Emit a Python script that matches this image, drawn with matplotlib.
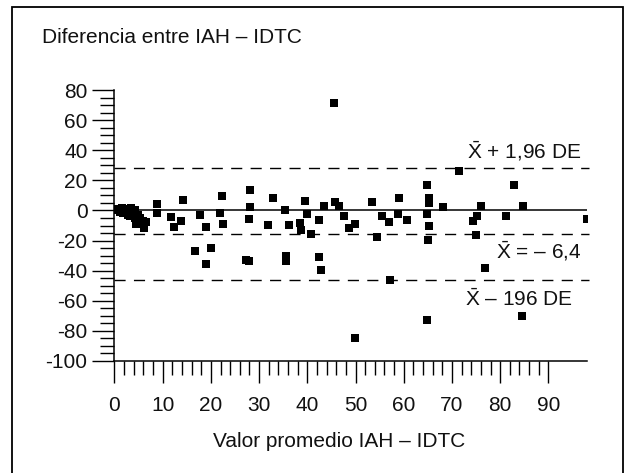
import matplotlib
matplotlib.use("Agg")
import matplotlib.pyplot as plt
from matplotlib.patches import Rectangle
from matplotlib.ticker import MultipleLocator

plt.rcParams['font.family'] = ['Liberation Sans', 'DejaVu Sans']
plt.rcParams['mathtext.fontset'] = 'custom'
plt.rcParams['mathtext.rm'] = 'Liberation Sans'
plt.rcParams['mathtext.it'] = 'Liberation Sans'
plt.rcParams['axes.unicode_minus'] = False

# Data: mean value (x) and difference (y) IAH - IDTC
mean_vals = [
    0.3, 0.8, 1.2, 1.5, 2.0, 2.2, 2.6, 3.0, 3.2, 3.5, 3.8, 4.2, 4.2, 4.8, 5.0,
    5.3, 5.5, 6.0, 6.2, 6.5, 2.8, 1.8, 4.5,
    8.9, 8.9, 11.8, 12.3, 13.7, 14.2, 16.7, 17.8, 18.9, 18.9, 20.0, 21.8, 22.3,
    22.5, 27.2, 27.8, 28.2, 28.2, 28.0, 31.9, 32.9, 35.4, 35.5, 35.5, 36.1,
    38.4, 38.7, 39.6, 39.9, 40.8, 42.4, 42.5, 42.8, 43.4, 45.6, 45.7, 46.5,
    47.6, 48.6, 49.8, 49.8,
    53.5, 54.5, 55.5, 57.0, 57.2, 58.8, 59.1, 60.6, 64.8, 65.2, 65.2, 64.8,
    65.3, 65.0, 64.9, 68.1, 71.5, 74.3, 75.1, 75.0, 76.0, 76.9, 81.3, 82.8,
    84.8, 84.6, 98.0,
]
diff_vals = [
    0.0, 1.0, -1.0, 1.5, 0.0, -2.0, 1.0, -1.0, -4.0, 1.5, -2.0, 0.5, -5.0, -3.0, -7.0,
    -5.0, -9.0, -7.0, -11.5, -8.0, -3.0, -1.5, -9.0,
    4.0, -1.8, -4.4, -11.0, -6.7, 6.7, -26.7, -3.3, -10.7, -35.6, -24.9, -1.8, 9.6,
    -8.9, -32.7, -33.8, 13.8, 2.2, -5.8, -9.6, 8.2, 0.0, -30.0, -33.3, -9.6,
    -8.4, -12.9, 6.0, -2.2, -15.6, -31.1, -6.2, -39.6, 2.7, 71.6, 5.6, 2.7,
    -3.8, -11.8, -9.3, -84.9,
    5.8, -17.8, -4.0, -7.8, -46.2, -2.2, 8.4, -6.2, 16.7, 8.4, 5.1, -2.2,
    -10.0, -19.3, -72.9, 2.2, 26.0, -6.7, -4.0, -16.0, 2.7, -38.2, -4.0, 17.1,
    2.9, -70.2, -5.6,
]

upper_limit = 28.5
mean_line = -15.5
lower_limit = -46.5

x_ticks = [0, 10, 20, 30, 40, 50, 60, 70, 80, 90]
y_ticks = [80, 60, 40, 20, 0, -20, -40, -60, -80, -100]
y_tick_labels = ['80', '60', '40', '20', '0', '-20', '-40', '-60', '-80', '-100']

FS = 15

fig = plt.figure(figsize=(6.26, 4.73), dpi=100)
ax = fig.add_axes([0.1829, 0.2368, 0.9377 - 0.1829, 0.8097 - 0.2368])

ax.plot(mean_vals, diff_vals, linestyle='none', marker='s', markersize=6.0,
        color='black', markeredgewidth=0)

ax.axhline(0, color='black', lw=1.1)
for yv in (upper_limit, mean_line, lower_limit):
    ax.plot([0, 98.5], [yv, yv], color='black', lw=1.0,
            linestyle=(0, (8, 6)), clip_on=False)

ax.set_xlim(0, 98)
ax.set_ylim(-100, 80)
ax.set_xticks(x_ticks)
ax.set_yticks(y_ticks)
ax.set_yticklabels(y_tick_labels)
ax.set_xticks([v for v in range(0, 91, 2) if v % 10 != 0], minor=True)
ax.yaxis.set_minor_locator(MultipleLocator(5))
ax.tick_params(axis='both', which='major', length=15.5, width=1.0,
               labelsize=FS, color='black', labelcolor='#111111')
ax.tick_params(axis='both', which='minor', length=10, width=1.0, color='black')
ax.tick_params(axis='x', which='major', pad=10)
ax.tick_params(axis='y', which='major', pad=4)

for side in ('top', 'right'):
    ax.spines[side].set_visible(False)
for side in ('left', 'bottom'):
    ax.spines[side].set_linewidth(1.1)

txt_kw = dict(fontsize=FS, color='#111111', va='baseline', ha='left')
ax.text(73.2, 34.7, r'$\bar{\mathrm{X}}$ + 1,96 DE', **txt_kw)
ax.text(79.2, -32.0, r'$\bar{\mathrm{X}}$ = – 6,4', **txt_kw)
ax.text(72.6, -63.3, r'$\bar{\mathrm{X}}$ – 196 DE', **txt_kw)

fig.text(42 / 626, 1 - 43 / 473, 'Diferencia entre IAH – IDTC',
         fontsize=FS, color='#111111', va='baseline', ha='left')
fig.text(339 / 626, 1 - 447 / 473, 'Valor promedio IAH – IDTC',
         fontsize=FS, color='#111111', va='baseline', ha='center')

frame = Rectangle((12 / 626, -0.05), (623 - 12) / 626, 1.05 - 7 / 473,
                  transform=fig.transFigure, fill=False, edgecolor='black',
                  lw=1.3, clip_on=False)
fig.patches.append(frame)

fig.savefig('out.png', dpi=100)
